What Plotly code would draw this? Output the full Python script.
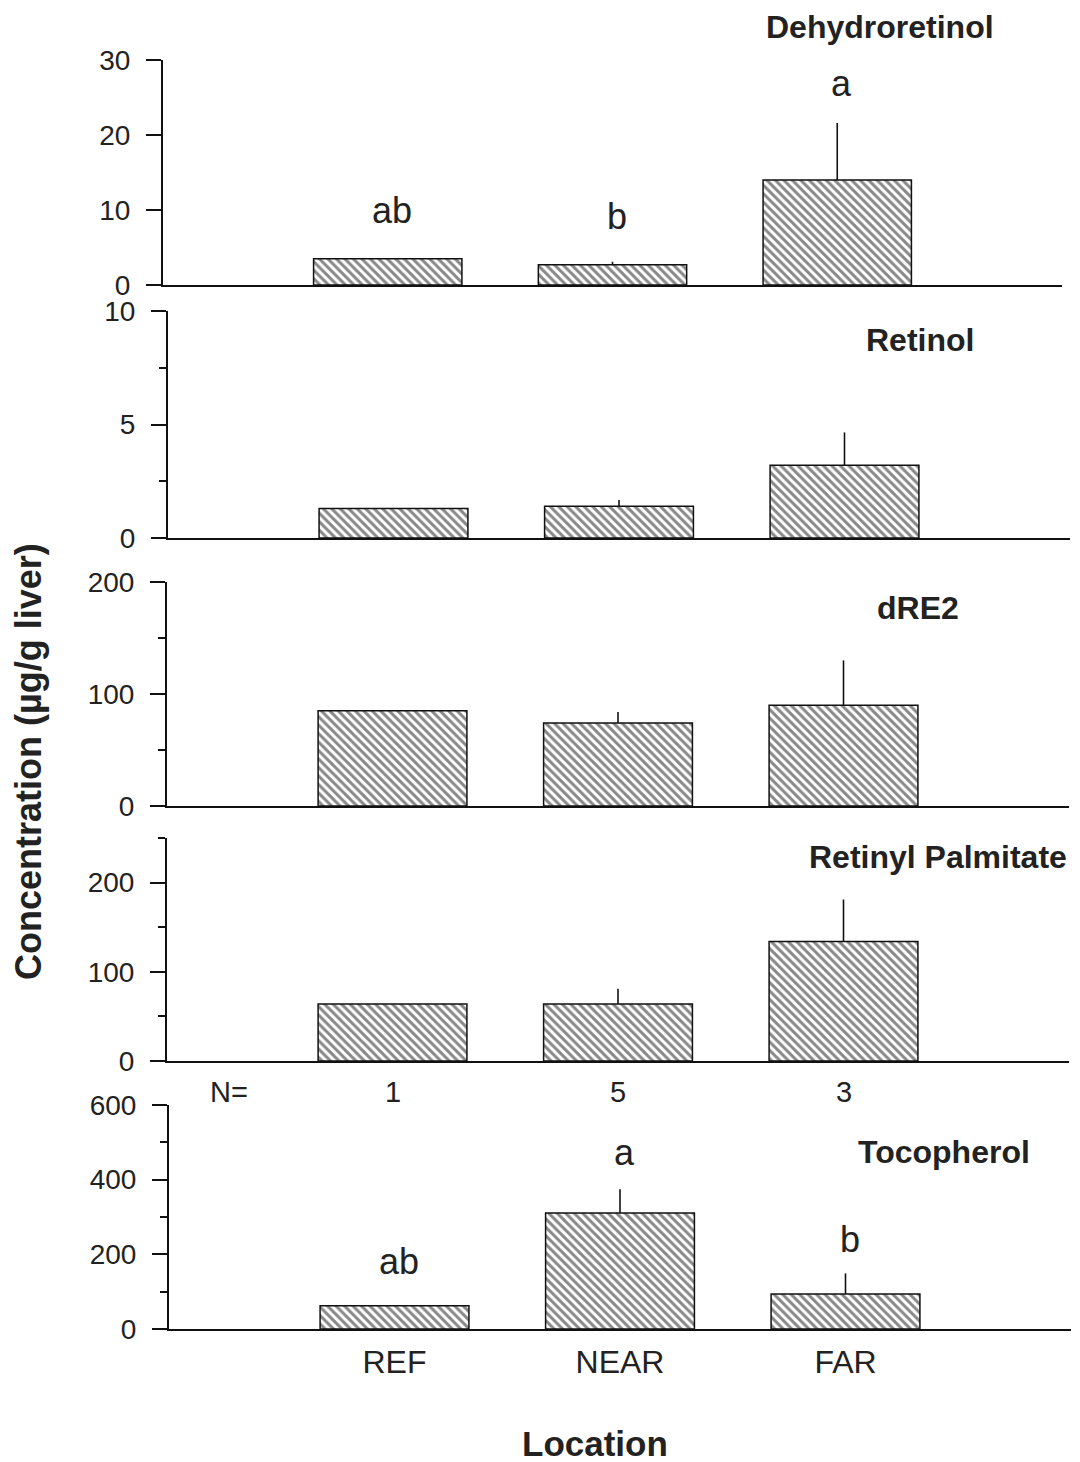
import plotly.graph_objects as go

W, H = 1080, 1462

locations = ["REF", "NEAR", "FAR"]
n_labels = ["1", "5", "3"]

panel_names = ["Dehydroretinol", "Retinol", "dRE2", "Retinyl Palmitate", "Tocopherol"]
means = [
    [3.5, 2.7, 14.0],
    [1.3, 1.4, 3.2],
    [85, 74, 90],
    [64, 64, 134],
    [62, 311, 94],
]
errors = [
    [0, 0.4, 7.6],
    [0, 0.27, 1.45],
    [0, 10, 40],
    [0, 17, 47],
    [0, 63, 55],
]
letters = [
    ["ab", "b", "a"],
    ["", "", ""],
    ["", "", ""],
    ["", "", ""],
    ["ab", "a", "b"],
]
letter_y = [
    [10, 9.1, 26.9],
    None, None, None,
    [180, 472, 239],
]
y_ranges = [[0, 30], [0, 10], [0, 200], [0, 250], [0, 600]]
y_tickvals = [[0, 10, 20, 30], [0, 5, 10], [0, 100, 200], [0, 100, 200], [0, 200, 400, 600]]
y_minor = [None, 2.5, 50, 50, 100]

# layout geometry in pixels (top, bottom, left, right)
panel_px = [
    (60, 285, 163, 1062),
    (311, 538, 168, 1070),
    (582, 806, 167, 1069),
    (838, 1061, 167, 1069),
    (1105, 1329, 169, 1071),
]
title_px = [(880, 27), (920, 340), (918, 608), (938, 857), (944, 1152)]

FONT = "Liberation Sans, Arial, Helvetica, sans-serif"

fig = go.Figure()
layout = dict(
    width=W, height=H, margin=dict(l=0, r=0, t=0, b=0, autoexpand=False),
    paper_bgcolor="white", plot_bgcolor="white", showlegend=False,
    font=dict(family=FONT, color="#222", size=24),
)
annotations = []

for i in range(5):
    k = "" if i == 0 else str(i + 1)
    xa, ya = "x" + k, "y" + k
    top, bot, left, right = panel_px[i]
    fig.add_trace(go.Bar(
        x=[0, 1, 2], y=means[i], xaxis=xa, yaxis=ya, width=0.66,
        marker=dict(color="white", line=dict(color="#111", width=1.5),
                    pattern=dict(shape="\\", fgcolor="#111", bgcolor="white", size=6, solidity=0.5)),
        error_y=dict(type="data", symmetric=False, array=errors[i],
                     arrayminus=[0, 0, 0], width=0, thickness=1.6, color="#111"),
    ))
    xdom = [left / W, right / W]
    ydom = [1 - bot / H, 1 - top / H]
    xaxis = dict(domain=xdom, anchor=ya, range=[-1, 3], showgrid=False, zeroline=False,
                 automargin=False,
                 showline=True, linecolor="#111", linewidth=2, ticks="",
                 tickvals=[0, 1, 2], showticklabels=(i == 4))
    if i == 4:
        xaxis["ticktext"] = locations
        xaxis["tickfont"] = dict(size=32, color="#222")
        xaxis["ticklabelstandoff"] = 4
    yaxis = dict(domain=ydom, anchor=xa, range=y_ranges[i], showgrid=False, zeroline=False,
                 automargin=False,
                 showline=True, linecolor="#111", linewidth=2, ticks="outside",
                 ticklen=15, tickwidth=2, tickcolor="#111", tickvals=y_tickvals[i],
                 ticklabelstandoff=10,
                 tickfont=dict(size=28, color="#222"))
    if y_minor[i]:
        yaxis["minor"] = dict(dtick=y_minor[i], ticks="outside", ticklen=7,
                              tickwidth=1.5, tickcolor="#111")
    layout["xaxis" + k] = xaxis
    layout["yaxis" + k] = yaxis

    tx, ty = title_px[i]
    annotations.append(dict(text="<b>%s</b>" % panel_names[i], x=tx / W, y=1 - ty / H,
                            xref="paper", yref="paper", showarrow=False,
                            font=dict(size=32, color="#222"), xanchor="center", yanchor="middle"))
    if letter_y[i]:
        for j in range(3):
            annotations.append(dict(text=letters[i][j], x=j + 0.02, y=letter_y[i][j],
                                    xref=xa, yref=ya, showarrow=False,
                                    font=dict(size=36, color="#222"), yanchor="middle"))

# N= labels under panel 4
annotations.append(dict(text="N=", x=208 / W, y=1 - 1092 / H, xref="paper", yref="paper",
                        showarrow=False, yanchor="middle", font=dict(size=29, color="#222")))
for j in range(3):
    annotations.append(dict(text=n_labels[j], x=j, y=1 - 1092 / H, xref="x4", yref="paper",
                            showarrow=False, yanchor="middle", font=dict(size=29, color="#222")))

annotations.append(dict(text="<b>Location</b>", x=595 / W, y=1 - 1443 / H, xref="paper", yref="paper",
                        showarrow=False, yanchor="middle", font=dict(size=35, color="#222")))
annotations.append(dict(text="<b>Concentration (µg/g liver)</b>", x=28 / W, y=1 - 762 / H,
                        xref="paper", yref="paper", showarrow=False, textangle=-90,
                        xanchor="center", yanchor="middle",
                        font=dict(size=36, color="#222")))

layout["annotations"] = annotations
fig.update_layout(**layout)
fig.write_html("out.html")
